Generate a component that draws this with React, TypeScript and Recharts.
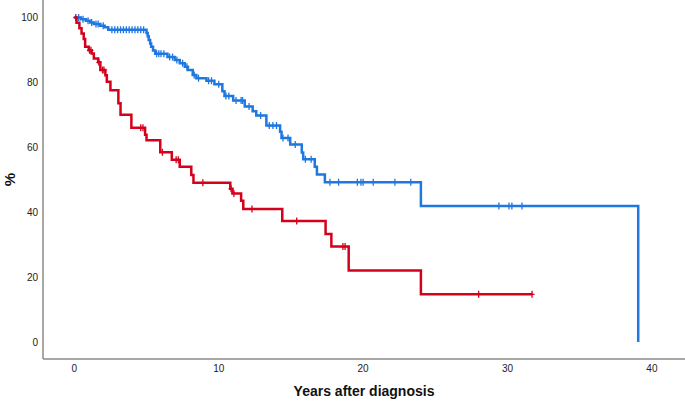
import { ComposedChart, Line, Scatter, XAxis, YAxis } from 'recharts';

// Kaplan-Meier style survival curves, two groups
const blueTimes = [0, 0.45, 0.8, 1.1, 1.35, 1.8, 2.1, 2.35, 5.0, 5.08, 5.15, 5.25, 5.32, 5.45, 5.6, 6.45, 6.95, 7.3, 7.65, 7.85, 8.2, 8.45, 9.15, 9.7, 10.25, 10.4, 11.0, 11.8, 12.35, 12.6, 13.3, 14.25, 14.35, 14.95, 15.75, 15.85, 16.65, 16.8, 17.35, 24.0, 39.05];
const blueSurv = [100, 99.5, 99.0, 98.5, 98.0, 97.5, 97.0, 96.2, 95.2, 94.2, 93.1, 92.0, 91.0, 89.8, 88.8, 87.8, 86.9, 85.9, 84.8, 83.8, 82.3, 81.3, 80.5, 79.4, 77.3, 75.8, 74.4, 72.6, 71.1, 69.8, 66.7, 64.8, 62.9, 60.9, 58.4, 56.3, 54.0, 51.6, 49.2, 41.9, 0];
const blueCensored = [0.3, 0.6, 0.95, 1.2, 1.5, 1.65, 2.0, 2.6, 2.8, 3.0, 3.2, 3.4, 3.6, 3.8, 4.0, 4.2, 4.4, 4.6, 4.8, 5.7, 5.85, 6.0, 6.2, 6.6, 6.8, 7.1, 7.5, 7.8, 8.3, 8.6, 9.3, 9.5, 10.0, 10.5, 10.7, 11.2, 11.55, 11.65, 12.1, 12.9, 13.5, 13.75, 14.0, 14.45, 14.8, 15.3, 16.0, 16.4, 17.7, 18.3, 19.6, 19.85, 20.0, 20.7, 22.2, 23.3, 29.4, 30.1, 30.3, 31.0];

const redTimes = [0, 0.15, 0.35, 0.5, 0.65, 0.75, 1.0, 1.2, 1.35, 1.65, 1.8, 2.15, 2.25, 2.5, 3.05, 3.2, 3.95, 4.9, 5.0, 5.95, 6.75, 7.3, 8.1, 8.25, 10.8, 10.95, 11.55, 11.7, 14.4, 17.4, 17.8, 19.0, 24.0, 31.7];
const redSurv = [100, 98.4, 96.7, 95.1, 93.4, 91.0, 89.9, 88.9, 87.4, 86.2, 83.8, 82.2, 80.2, 77.6, 73.6, 70.0, 66.0, 63.9, 62.2, 58.5, 56.2, 54.0, 51.5, 49.1, 47.2, 45.8, 43.5, 41.0, 37.3, 33.3, 29.4, 22.0, 14.7, 14.7];
const redCensored = [0.1, 1.05, 1.15, 1.7, 1.95, 2.05, 4.6, 4.75, 6.1, 7.05, 7.2, 8.9, 10.85, 11.05, 12.3, 15.4, 18.6, 18.75, 28.0, 31.7];

const xTicks = [0, 10, 20, 30, 40];
const yTicks = [0, 20, 40, 60, 80, 100];

const BLUE = '#1f78e0';
const RED = '#d4011c';
const AXIS = '#8a8a8a';
const FONT = '"Liberation Sans", Arial, sans-serif';

const toSteps = (times: number[], surv: number[]) => times.map((t, i) => ({ t, v: surv[i] }));

// censor marks sit on the curve: value of the step in force at that time
const toCensors = (censored: number[], times: number[], surv: number[]) =>
  censored.map((t) => {
    let v = surv[0];
    times.forEach((tt, i) => {
      if (tt <= t) v = surv[i];
    });
    return { t, v };
  });

const blueSteps = toSteps(blueTimes, blueSurv);
const redSteps = toSteps(redTimes, redSurv);
const blueMarks = toCensors(blueCensored, blueTimes, blueSurv);
const redMarks = toCensors(redCensored, redTimes, redSurv);

const cross = (color: string) => (p: any) => (
  <path
    d={`M${p.cx - 2.5},${p.cy}H${p.cx + 2.5}M${p.cx},${p.cy - 3.5}V${p.cy + 3.5}`}
    stroke={color}
    strokeWidth={1.3}
    fill="none"
  />
);

const YLabel = (props: any) => {
  const vb = props.viewBox || { x: 0, y: 0, width: 43, height: 359 };
  const x = vb.x + 9;
  const y = vb.y + vb.height / 2;
  return (
    <text x={x} y={y} transform={`rotate(-90, ${x}, ${y})`} textAnchor="middle" dominantBaseline="central"
      fontSize={15} fontWeight="bold" fontFamily={FONT} fill="#111">
      %
    </text>
  );
};

const XLabel = (props: any) => {
  const vb = props.viewBox || { x: 43, y: 359, width: 642, height: 42 };
  return (
    <text x={vb.x + vb.width / 2} y={vb.y + vb.height - 5} textAnchor="middle"
      fontSize={14} fontWeight="bold" fontFamily={FONT} fill="#111">
      Years after diagnosis
    </text>
  );
};

export default function App() {
  return (
    <div style={{ position: 'absolute', left: 0, top: 0, background: '#fff' }}>
      <ComposedChart width={685} height={401} margin={{ top: 0, right: 0, bottom: 0, left: 0 }}>
        <XAxis
          type="number"
          dataKey="t"
          domain={[-2.17, 42.29]}
          ticks={xTicks}
          allowDataOverflow
          height={42}
          tickSize={0}
          tickMargin={6}
          tickLine={false}
          axisLine={{ stroke: AXIS, strokeWidth: 1.5 }}
          tick={{ fontSize: 10, fill: '#222', fontFamily: FONT }}
          label={XLabel}
        />
        <YAxis
          type="number"
          dataKey="v"
          domain={[-5.24, 105.4]}
          ticks={yTicks}
          allowDataOverflow
          width={43}
          tickSize={0}
          tickMargin={5}
          tickLine={false}
          axisLine={{ stroke: AXIS, strokeWidth: 1.5 }}
          tick={{ fontSize: 10, fill: '#222', fontFamily: FONT }}
          label={YLabel}
        />
        <Line data={blueSteps} dataKey="v" type="stepAfter" stroke={BLUE} strokeWidth={2.5} dot={false} isAnimationActive={false} />
        <Line data={redSteps} dataKey="v" type="stepAfter" stroke={RED} strokeWidth={2.5} dot={false} isAnimationActive={false} />
        <Scatter data={blueMarks} dataKey="v" shape={cross(BLUE)} isAnimationActive={false} />
        <Scatter data={redMarks} dataKey="v" shape={cross(RED)} isAnimationActive={false} />
      </ComposedChart>
    </div>
  );
}
